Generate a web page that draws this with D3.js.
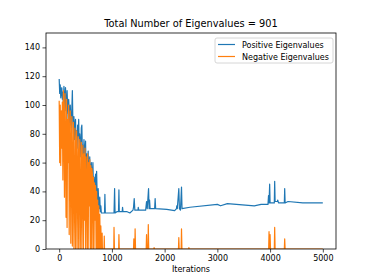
<!DOCTYPE html>
<html lang="en">
    <head>
        <meta charset="utf-8">
        <script type="text/javascript" src="https://cdn.jsdelivr.net/npm/d3@7/dist/d3.min.js"></script>
        <style type="text/css">
            body { margin: 0; background: #ffffff; }
            text { font-family: "DejaVu Sans", sans-serif; fill: #000000; }
            .tick text { font-size: 8px; }
            .tick line { stroke: #000000; stroke-width: 0.7; }
        </style>
    </head>
    <body>
        <script type="text/javascript">
            // early noisy phase, one sample every 10 iterations
            var earlyIter = d3.range(0, 800, 10);
            var earlyPositive = [118, 108, 114, 105, 110, 112, 104, 109, 100, 113,
                                 106, 96, 112, 103, 94, 110, 100, 90, 104, 96,
                                 86, 100, 92, 84, 97, 110, 88, 80, 92, 76,
                                 86, 90, 74, 82, 70, 86, 78, 90, 68, 80,
                                 74, 64, 84, 86, 66, 72, 60, 76, 58, 70,
                                 75, 56, 66, 52, 62, 68, 48, 58, 64, 44,
                                 56, 60, 42, 52, 60, 40, 50, 36, 46, 52,
                                 34, 54, 38, 30, 42, 32, 28, 36, 26, 30];
            var earlyNegative = [103, 60, 100, 58, 96, 70, 102, 48, 110, 88,
                                 36, 108, 70, 22, 104, 15, 90, 60, 100, 10,
                                 80, 96, 4, 70, 92, 2, 60, 88, 0, 40,
                                 84, 0, 70, 82, 0, 50, 78, 0, 64, 76,
                                 0, 30, 74, 0, 56, 72, 0, 66, 20, 70,
                                 0, 64, 48, 0, 66, 0, 60, 30, 62, 0,
                                 58, 0, 56, 52, 0, 50, 0, 46, 20, 44,
                                 0, 40, 0, 34, 0, 30, 0, 24, 0, 16];

            // later phase, breakpoints of the plateau and its spikes
            var lateIterPositive = [800, 860, 867, 875, 1040, 1051, 1060, 1100, 1125, 1133, 1140, 1195, 1202, 1210,
                                    1280, 1340, 1400, 1410, 1423, 1435, 1495, 1500, 1510, 1640, 1657, 1670, 1695,
                                    1705, 1714, 1725, 1810, 1820, 1830, 2040, 2190, 2225, 2230, 2240, 2269, 2280,
                                    2300, 2320, 2330, 2480, 3000, 3060, 3190, 3700, 3830, 3960, 3970, 3980, 3992,
                                    4000, 4080, 4087, 4095, 4140, 4144, 4160, 4270, 4277, 4285, 4340, 4620, 5000];
            var lateValPositive = [25, 25, 38, 25, 25, 42, 25, 26, 26, 41, 26, 26, 29, 26,
                                   26, 25, 27, 29, 35, 27, 27, 29, 27, 27, 33, 28, 42,
                                   28, 34, 28, 28, 35, 28, 27.5, 26.6, 28, 30, 28, 42, 28,
                                   27, 43, 28, 29, 31, 30, 31.5, 30, 31, 31, 37, 32, 45,
                                   32, 32, 47, 33, 33, 34, 32, 32, 42, 32, 33, 32, 32];
            var lateIterNegative = [800, 810, 815, 820, 850, 855, 860, 1035, 1040, 1048, 1128, 1133, 1140,
                                    1410, 1416, 1425, 1435, 1440, 1448, 1650, 1657, 1665, 1685, 1690, 1698,
                                    1795, 1800, 1808, 2262, 2269, 2276, 2313, 2320, 2328, 2455, 2460, 2468,
                                    3973, 3980, 3988, 3994, 4000, 4008, 4080, 4087, 4095, 4270, 4277, 4285, 5000];
            var lateValNegative = [0, 0, 11, 0, 0, 9, 0, 0, 15, 0, 0, 10, 0,
                                   0, 7, 0, 0, 14, 0, 0, 10, 0, 0, 17, 0,
                                   0, 1, 0, 0, 8, 0, 0, 14, 0, 0, 1, 0,
                                   0, 12, 0, 0, 10, 0, 0, 15, 0, 0, 7, 0, 0];

            var xTicks = [0, 1000, 2000, 3000, 4000, 5000];
            var yTicks = [0, 20, 40, 60, 80, 100, 120, 140];
            var seriesNames = ["Positive Eigenvalues", "Negative Eigenvalues"];
            var seriesColors = ["#1f77b4", "#ff7f0e"];

            // glue both phases into point lists
            function joinPoints(iters, vals, iters2, vals2) {
              var pts = [];
              for (var i = 0; i < iters.length; i++) pts.push([iters[i], vals[i]]);
              for (var j = 0; j < iters2.length; j++) pts.push([iters2[j], vals2[j]]);
              return pts;
            }
            var positive = joinPoints(earlyIter, earlyPositive, lateIterPositive, lateValPositive);
            var negative = joinPoints(earlyIter, earlyNegative, lateIterNegative, lateValNegative);

            var w = 374, h = 280;
            var margin = {top: 33, right: 38, bottom: 31, left: 46};

            var xScale = d3.scaleLinear()
                           .domain([-250, 5250])
                           .range([margin.left, w - margin.right]);
            var yScale = d3.scaleLinear()
                           .domain([0, 150])
                           .range([h - margin.bottom, margin.top]);

            var svg = d3.select("body")
              .append("svg")
              .attr("width", w)
              .attr("height", h);

            svg.append("defs").append("clipPath")
              .attr("id", "plotClip")
              .append("rect")
              .attr("x", margin.left)
              .attr("y", margin.top)
              .attr("width", w - margin.left - margin.right)
              .attr("height", h - margin.top - margin.bottom);

            var line = d3.line()
              .x(function(d) { return xScale(d[0]); })
              .y(function(d) { return yScale(d[1]); });

            var plot = svg.append("g").attr("clip-path", "url(#plotClip)");
            [positive, negative].forEach(function(pts, i) {
              plot.append("path")
                .datum(pts)
                .attr("d", line)
                .attr("fill", "none")
                .attr("stroke", seriesColors[i])
                .attr("stroke-width", 1.2)
                .attr("stroke-linejoin", "round");
            });

            // axes
            var xAxis = svg.append("g")
              .attr("transform", "translate(0," + (h - margin.bottom) + ")")
              .call(d3.axisBottom(xScale).tickValues(xTicks).tickFormat(d3.format("d"))
                      .tickSize(3.5).tickPadding(2.5));
            var yAxis = svg.append("g")
              .attr("transform", "translate(" + margin.left + ",0)")
              .call(d3.axisLeft(yScale).tickValues(yTicks).tickFormat(d3.format("d"))
                      .tickSize(3.5).tickPadding(2.5));
            xAxis.select(".domain").remove();
            yAxis.select(".domain").remove();
            svg.selectAll(".tick text").attr("font-family", null);

            // frame
            svg.append("rect")
              .attr("x", margin.left)
              .attr("y", margin.top)
              .attr("width", w - margin.left - margin.right)
              .attr("height", h - margin.top - margin.bottom)
              .attr("fill", "none")
              .attr("stroke", "#000000")
              .attr("stroke-width", 0.8);

            // title and label
            svg.append("text")
              .attr("x", (margin.left + w - margin.right) / 2)
              .attr("y", 27)
              .attr("text-anchor", "middle")
              .style("font-size", "9.8px")
              .text("Total Number of Eigenvalues = 901");
            svg.append("text")
              .attr("x", (margin.left + w - margin.right) / 2)
              .attr("y", 272)
              .attr("text-anchor", "middle")
              .style("font-size", "8px")
              .text("Iterations");

            // legend
            var legend = svg.append("g").attr("transform", "translate(215,38)");
            legend.append("rect")
              .attr("width", 118)
              .attr("height", 25)
              .attr("rx", 2)
              .attr("fill", "#ffffff")
              .attr("fill-opacity", 0.8)
              .attr("stroke", "#cccccc")
              .attr("stroke-width", 0.8);
            seriesNames.forEach(function(name, i) {
              var yy = 6.5 + i * 12;
              legend.append("line")
                .attr("x1", 3).attr("x2", 20)
                .attr("y1", yy).attr("y2", yy)
                .attr("stroke", seriesColors[i])
                .attr("stroke-width", 1.2);
              legend.append("text")
                .attr("x", 27)
                .attr("y", yy + 3)
                .style("font-size", "8px")
                .text(name);
            });
        </script>
    </body>
</html>
